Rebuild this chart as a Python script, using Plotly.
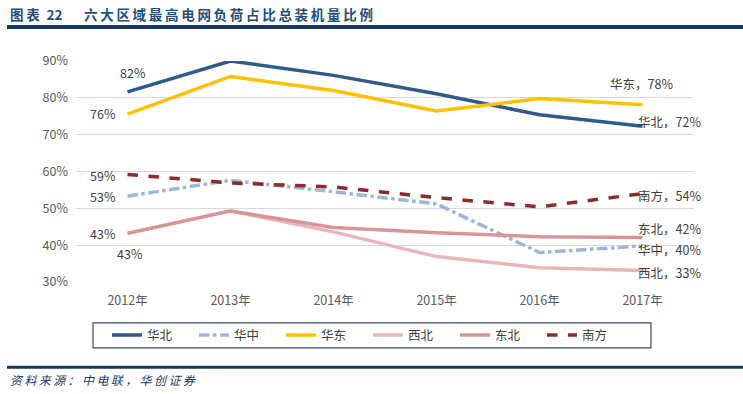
import plotly.graph_objects as go

years = ["2012年", "2013年", "2014年", "2015年", "2016年", "2017年"]
huabei = [81.6, 90.0, 86.1, 81.1, 75.4, 72.3]
huazhong = [53.3, 57.6, 54.5, 51.2, 38.0, 39.8]
huadong = [75.6, 85.8, 82.0, 76.4, 79.8, 78.1]
xibei = [43.2, 49.3, 43.6, 36.9, 33.9, 33.1]
dongbei = [43.2, 49.3, 44.8, 43.4, 42.3, 42.1]
nanfang = [59.2, 56.9, 55.8, 52.9, 50.4, 54.0]

title_no = "图表 22"
title_text = "六大区域最高电网负荷占比总装机量比例"
source_text = "资料来源：中电联，华创证券"

series = [
    ("华北", huabei, "#2E5A8C", "solid"),
    ("华中", huazhong, "#9DB5D9", "dashdot"),
    ("华东", huadong, "#FFC000", "solid"),
    ("西北", xibei, "#E9B7BA", "solid"),
    ("东北", dongbei, "#D99595", "solid"),
    ("南方", nanfang, "#8E2B2D", "dash"),
]

W, H = 743, 394
X0, X1, Y0, Y1 = 76, 694, 60.5, 282
L, R, T, B = X0, W - X1, Y0, H - Y1
PW, PH = W - L - R, H - T - B

def px(x):
    return (x - L) / PW

def py(y):
    return (H - B - y) / PH

def spaced(s, sp="\u2009"):
    return sp.join(list(s))

FONT = "Noto Sans CJK SC"
fig = go.Figure()
for name, vals, color, dash in series:
    fig.add_trace(go.Scatter(
        x=years, y=vals, name=name, mode="lines",
        line=dict(color=color, width=3.5, dash=dash),
    ))

label_color = "#404040"
ann = []
def lab(text, x, y, anchor="center"):
    ann.append(dict(text=text, x=px(x), y=py(y), xref="paper", yref="paper",
                    showarrow=False, xanchor=anchor, yanchor="middle",
                    font=dict(size=12.5, color=label_color, family=FONT)))

# left-side data labels (2012)
lab(f"{round(huabei[0])}%", 133, 72)
lab(f"{round(huadong[0])}%", 103, 113)
lab(f"{round(nanfang[0])}%", 103, 175)
lab(f"{round(huazhong[0])}%", 103, 196)
lab(f"{round(dongbei[0])}%", 103, 233)
lab(f"{round(xibei[0])}%", 130, 253)
# right-side data labels (2017)
lab(f"华东，{round(huadong[-1])}%", 608, 83, "left")
lab(f"华北，{round(huabei[-1])}%", 636, 121, "left")
lab(f"南方，{round(nanfang[-1])}%", 636, 195, "left")
lab(f"东北，{round(dongbei[-1])}%", 636, 228, "left")
lab(f"华中，{round(huazhong[-1])}%", 636, 249, "left")
lab(f"西北，{round(xibei[-1])}%", 636, 272, "left")

# title and source
title_color = "#1F4E79"
no_parts = title_no.split(" ")
ann.append(dict(text="<b>" + spaced(no_parts[0]) + "\u2002" + no_parts[1] + "</b>",
                x=px(8), y=py(13.5), xref="paper", yref="paper", showarrow=False,
                xanchor="left", yanchor="middle",
                font=dict(size=13.5, color=title_color, family=FONT)))
ann.append(dict(text="<b>" + spaced(title_text) + "</b>",
                x=px(82), y=py(13.5), xref="paper", yref="paper", showarrow=False,
                xanchor="left", yanchor="middle",
                font=dict(size=13.5, color=title_color, family=FONT)))
ann.append(dict(text="<i>" + spaced(source_text) + "</i>",
                x=px(8), y=py(380), xref="paper", yref="paper", showarrow=False,
                xanchor="left", yanchor="middle",
                font=dict(size=12, color="#1F3864", family=FONT)))

shapes = [
    dict(type="line", xref="paper", yref="paper", x0=px(7), x1=px(743),
         y0=py(26.5), y1=py(26.5), line=dict(color="#17375E", width=4)),
    dict(type="line", xref="paper", yref="paper", x0=px(7), x1=px(743),
         y0=py(367.5), y1=py(367.5), line=dict(color="#17375E", width=3)),
    dict(type="rect", xref="paper", yref="paper", x0=px(93), x1=px(651),
         y0=py(323), y1=py(348), line=dict(color="#3A4A66", width=1.2)),
]

fig.update_layout(
    width=W, height=H,
    margin=dict(l=L, r=R, t=T, b=B, autoexpand=False),
    paper_bgcolor="white", plot_bgcolor="white",
    font=dict(family=FONT, size=12.5, color="#595959"),
    showlegend=True,
    legend=dict(orientation="h", x=px(107), y=py(335.5), xanchor="left", yanchor="middle",
                borderwidth=0, bgcolor="rgba(0,0,0,0)",
                font=dict(size=12.5, color="#404040", family=FONT),
                itemwidth=30, tracegroupgap=0, entrywidthmode="pixels", entrywidth=42),
    annotations=ann, shapes=shapes,
    xaxis=dict(type="category", range=[-0.5, 5.5], showgrid=False, zeroline=False,
               showline=False, ticks="", ticklabelstandoff=9,
               tickfont=dict(size=12.5, color="#595959")),
    yaxis=dict(range=[30, 90], dtick=10, ticksuffix="%", showgrid=True,
               gridcolor="#D9D9D9", gridwidth=1, zeroline=False, showline=False,
               ticks="", ticklabelstandoff=7,
               tickfont=dict(size=12.5, color="#595959")),
)
fig.write_html("out.html", config={"displayModeBar": False},
               post_script="document.body.style.margin='0';document.body.style.padding='0';")
